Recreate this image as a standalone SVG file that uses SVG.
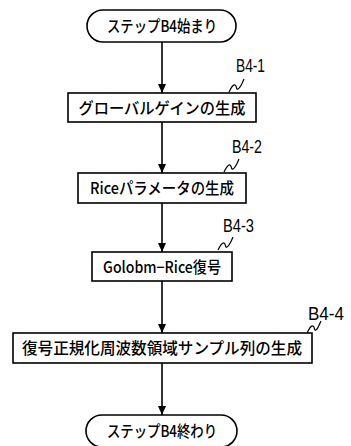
<svg xmlns="http://www.w3.org/2000/svg" width="351" height="446" viewBox="0 0 351 446">
<defs>
<marker id="ah" markerWidth="10" markerHeight="10" refX="9" refY="5" orient="auto" markerUnits="userSpaceOnUse" viewBox="0 0 10 10">
<path d="M0,1 L9,5 L0,9 Z" fill="#000"/>
</marker>
</defs>
<style>
.box{fill:#fff;stroke:#000;stroke-width:1.6}
.t{font-family:"Noto Sans CJK JP","Liberation Sans",sans-serif;font-size:16px;font-weight:500;text-anchor:middle;fill:#000}
.lab{font-family:"Liberation Sans",Arial,sans-serif;font-size:18px;fill:#000}
.sq{fill:none;stroke:#000;stroke-width:1.2}
.c{stroke:#000;stroke-width:1.6;fill:none}
</style>
<rect width="351" height="446" fill="#fff"/>
<g id="connectors">
<line class="c" x1="162" y1="42" x2="162" y2="93" marker-end="url(#ah)"/>
<line class="c" x1="162" y1="122" x2="162" y2="173" marker-end="url(#ah)"/>
<line class="c" x1="162" y1="203" x2="162" y2="252" marker-end="url(#ah)"/>
<line class="c" x1="162" y1="281" x2="162" y2="333" marker-end="url(#ah)"/>
<line class="c" x1="162" y1="363" x2="162" y2="415" marker-end="url(#ah)"/>
</g>
<g id="start">
<rect class="box" x="87" y="10" width="149" height="32" rx="16" ry="16"/>
<text class="t" x="162" y="32" textLength="110" lengthAdjust="spacingAndGlyphs">ステップB4始まり</text>
</g>
<g id="b4-1">
<rect class="box" x="68" y="93" width="188" height="29"/>
<text class="t" x="162" y="114" textLength="167" lengthAdjust="spacingAndGlyphs">グローバルゲインの生成</text>
<text class="lab" x="236" y="72" textLength="29" lengthAdjust="spacingAndGlyphs">B4-1</text>
<path class="sq" d="M229,92 C231,88 233,84 235,85 C237,86 236,90 238,89 C240,88 242,84 244,79"/>
</g>
<g id="b4-2">
<rect class="box" x="78" y="173" width="168" height="30"/>
<text class="t" x="162" y="194" textLength="144" lengthAdjust="spacingAndGlyphs">Riceパラメータの生成</text>
<text class="lab" x="232" y="153" textLength="30" lengthAdjust="spacingAndGlyphs">B4-2</text>
<path class="sq" d="M224,172 C226,168 228,164 230,165 C232,166 231,170 233,169 C235,168 237,164 239,159"/>
</g>
<g id="b4-3">
<rect class="box" x="92" y="252" width="140" height="29"/>
<text class="t" x="162" y="273" textLength="118" lengthAdjust="spacingAndGlyphs">Golobm−Rice復号</text>
<text class="lab" x="223" y="232" textLength="31" lengthAdjust="spacingAndGlyphs">B4-3</text>
<path class="sq" d="M218,250 C220,246 222,242 224,243 C226,244 225,248 227,247 C229,246 231,242 233,237"/>
</g>
<g id="b4-4">
<rect class="box" x="13" y="333" width="299" height="30"/>
<text class="t" x="162" y="354" textLength="280" lengthAdjust="spacingAndGlyphs">復号正規化周波数領域サンプル列の生成</text>
<text class="lab" x="308" y="320" textLength="36" lengthAdjust="spacingAndGlyphs">B4-4</text>
<path class="sq" d="M307,333 C309,329 311,325 313,326 C315,327 314,331 316,330 C318,329 319,325 321,321"/>
</g>
<g id="end">
<rect class="box" x="86" y="415" width="151" height="32" rx="16" ry="16"/>
<text class="t" x="162" y="437" textLength="110" lengthAdjust="spacingAndGlyphs">ステップB4終わり</text>
</g>
</svg>
